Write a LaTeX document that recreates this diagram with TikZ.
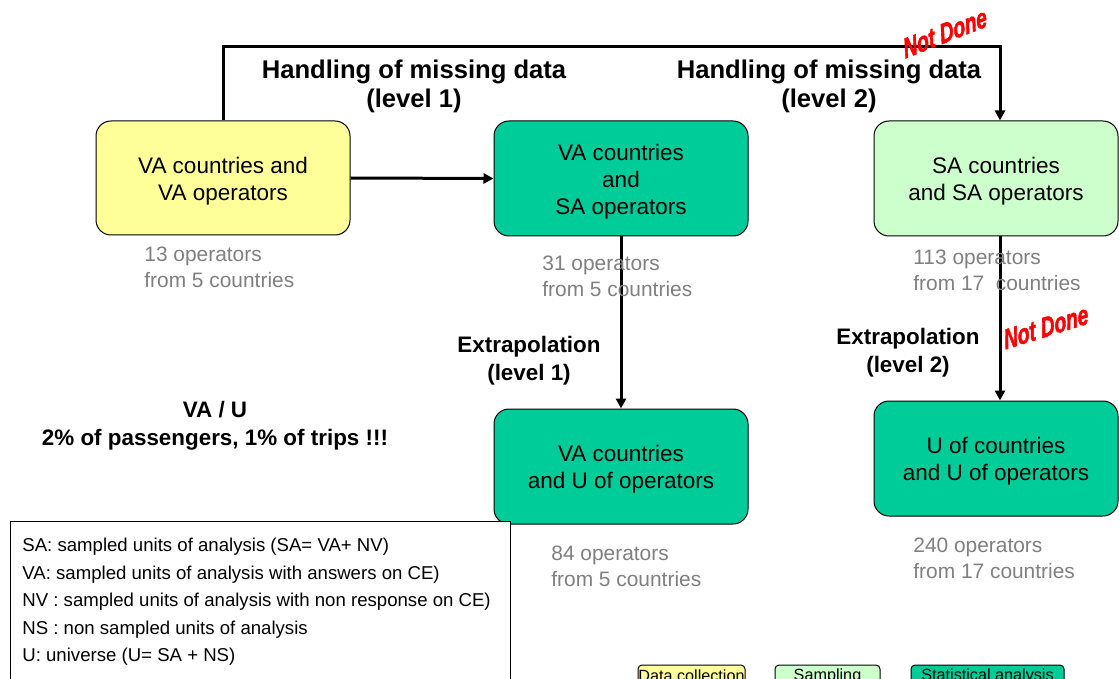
\documentclass[tikz,border=0pt]{standalone}
\usepackage{fontspec}
\setmainfont{Liberation Sans}
\newfontfamily\ndfont[BoldItalicFeatures={FakeBold=2}]{Liberation Sans}
\usetikzlibrary{arrows.meta}
\definecolor{yel}{HTML}{FFFF99}
\definecolor{grn}{HTML}{00CC99}
\definecolor{lgrn}{HTML}{CCFFCC}
\definecolor{gtxt}{HTML}{808080}
\tikzset{
  box/.style={draw=black, line width=0.5pt, rounded corners=7.5pt, inner sep=0pt},
  boxtext/.style={align=center, font=\fontsize{11.25}{13.5}\selectfont, inner sep=0pt},
  flow/.style={line width=1.5pt, -{Triangle[length=5pt,width=5pt]}},
  head/.style={font=\fontsize{12.8}{14.5}\selectfont\bfseries, align=center, inner sep=0pt},
  extra/.style={font=\fontsize{11.2}{14}\selectfont\bfseries, align=center, inner sep=0pt},
  count/.style={font=\fontsize{10.45}{13}\selectfont, text=gtxt, align=left, anchor=west, inner sep=0pt},
  notdone/.style={font=\fontsize{10.5}{12}\selectfont\ndfont\bfseries\itshape, text=red, inner sep=0pt, yscale=1.35, xscale=0.92},
  legbox/.style={draw=black, line width=0.5pt, rounded corners=2pt, inner sep=0pt}
}
\begin{document}
\begin{tikzpicture}[x=0.5pt, y=-0.5pt]
\clip (0,0) rectangle (1119,679);
\fill[white] (0,0) rectangle (1119,679);

% boxes
\node[box, fill=yel, minimum width=127pt, minimum height=57pt] (va) at (223,178) {};
\node[box, fill=grn, minimum width=127pt, minimum height=57.5pt] (vasa) at (621,178.5) {};
\node[box, fill=lgrn, minimum width=122pt, minimum height=57.5pt] (sa) at (996,178.5) {};
\node[box, fill=grn, minimum width=127pt, minimum height=57.5pt] (vau) at (621,466.5) {};
\node[box, fill=grn, minimum width=122pt, minimum height=57.5pt] (uu) at (996,458.5) {};
\node[boxtext] (vat) at ([yshift=-1.5pt]va.center) {VA countries and\\VA operators};
\node[boxtext] (vasat) at ([yshift=-1.5pt]vasa.center) {VA countries\\and\\SA operators};
\node[boxtext] (sat) at ([yshift=-1.5pt]sa.center) {SA countries\\and SA operators};
\node[boxtext] (vaut) at ([yshift=-1.5pt]vau.center) {VA countries\\and U of operators};
\node[boxtext] (uut) at ([yshift=-1.5pt]uu.center) {U of countries\\and U of operators};

% connectors
\coordinate (tr) at (1000,47);
\draw[flow] (va.north) |- (tr) -- (sa.north -| tr);
\draw[flow] (va.east) -- (vasa.west);
\draw[flow] (vasa.south) -- (vau.north);
\draw[flow] (sa.south -| tr) -- (uu.north -| tr);

% headings
\node[head] (h1) at (414,86.5) {Handling of missing data\\(level 1)};
\node[head] (h2) at (829,86.5) {Handling of missing data\\(level 2)};
\node[extra] (e1) at (529,361) {Extrapolation\\(level 1)};
\node[extra] (e2) at (908,352.5) {Extrapolation\\(level 2)};
\node[extra] (vu) at (215,425.5) {VA / U\\2\% of passengers, 1\% of trips !!!};

% not done
\node[notdone, rotate=15] (nd1) at (945,33) {Not Done};
\node[notdone, rotate=12] (nd2) at (1046,327) {Not Done};

% counts
\node[count] (c1) at (144,267.5) {13 operators\\from 5 countries};
\node[count] (c2) at (542,276.5) {31 operators\\from 5 countries};
\node[count] (c3) at (913,270) {113 operators\\from 17~ countries};
\node[count] (c4) at (551,566.5) {84 operators\\from 5 countries};
\node[count] (c5) at (913,558.5) {240 operators\\from 17 countries};

% legend
\draw[line width=0.5pt, fill=white] (10,521) rectangle (510,700);
\node[anchor=west, align=left, inner sep=0pt, font=\fontsize{9.3}{13.75}\selectfont] (leg) at (22,602)
 {SA: sampled units of analysis (SA= VA+ NV)\\
  VA: sampled units of analysis with answers on CE)\\
  NV : sampled units of analysis with non response on CE)\\
  NS : non sampled units of analysis\\
  U: universe (U= SA + NS)};

% colour legend
\draw[legbox, fill=yel] (638,665) rectangle (745,695);
\draw[legbox, fill=lgrn] (775,665) rectangle (880,695);
\draw[legbox, fill=grn] (911,665) rectangle (1064,695);
\node[inner sep=0pt, font=\fontsize{8.1}{9}\selectfont] (l1) at (691.5,676) {Data collection};
\node[inner sep=0pt, font=\fontsize{8.1}{9}\selectfont] (l2) at (827.5,676) {Sampling};
\node[inner sep=0pt, font=\fontsize{8.1}{9}\selectfont] (l3) at (987.5,676) {Statistical analysis};
\end{tikzpicture}
\end{document}
